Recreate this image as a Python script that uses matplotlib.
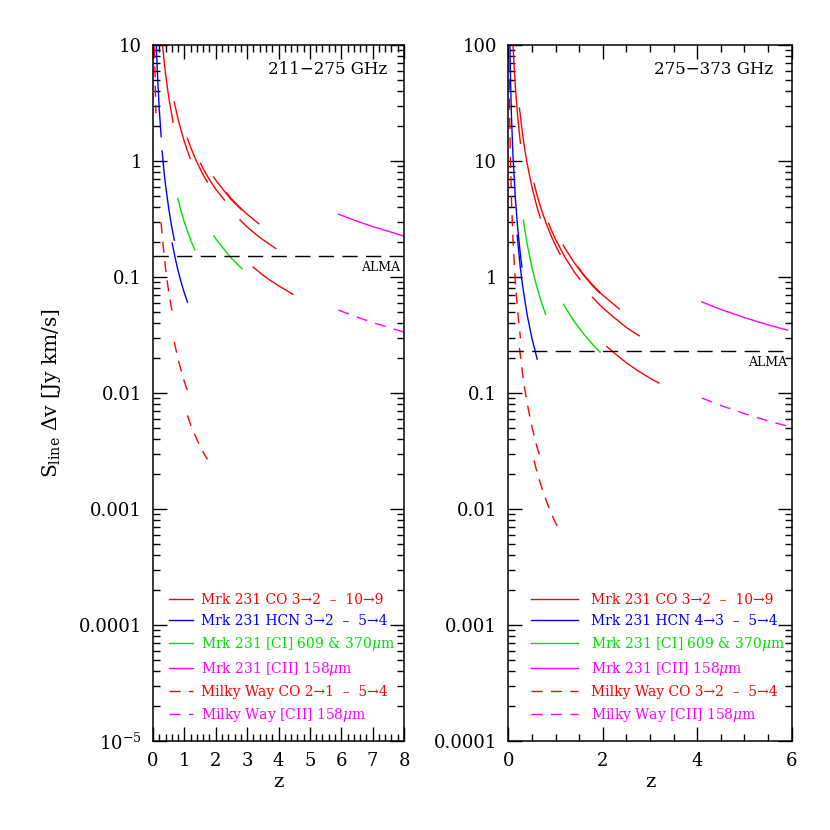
import numpy as np
import matplotlib
matplotlib.use("Agg")
import matplotlib.pyplot as plt
from matplotlib.ticker import FixedLocator, FixedFormatter, LogLocator, MultipleLocator, NullFormatter

plt.rcParams['font.family'] = ['DejaVu Serif']
plt.rcParams['mathtext.fontset'] = 'dejavuserif'

# ---- left panel, 211-275 GHz: one sub-list per transition ----
L_CO_Z = [[0.257, 0.30, 0.35, 0.40, 0.50, 0.639],
          [0.677, 0.80, 0.90, 1.00, 1.10, 1.185],
          [1.096, 1.20, 1.40, 1.60, 1.731],
          [1.515, 1.60, 1.80, 2.00, 2.277],
          [1.933, 2.00, 2.25, 2.50, 2.823],
          [2.352, 2.50, 2.75, 3.00, 3.369],
          [2.771, 3.00, 3.25, 3.50, 3.914],
          [3.189, 3.50, 3.75, 4.00, 4.460]]
L_CO_S = [[14.2, 10.3, 7.46, 5.65, 3.56, 2.16],
          [3.23, 2.29, 1.81, 1.47, 1.22, 1.05],
          [1.57, 1.31, 0.975, 0.759, 0.658],
          [0.955, 0.857, 0.690, 0.571, 0.460],
          [0.728, 0.684, 0.560, 0.463, 0.380],
          [0.530, 0.472, 0.403, 0.348, 0.288],
          [0.311, 0.270, 0.237, 0.210, 0.176],
          [0.122, 0.104, 0.0931, 0.0841, 0.0710]]
L_HCN_Z = [[0.09, 0.10, 0.12, 0.15, 0.20, 0.260],
           [0.289, 0.35, 0.40, 0.50, 0.60, 0.680],
           [0.611, 0.70, 0.80, 0.90, 1.00, 1.100]]
L_HCN_S = [[14.3, 11.5, 7.94, 5.02, 2.78, 1.62],
           [1.22, 0.818, 0.619, 0.391, 0.268, 0.208],
           [0.196, 0.149, 0.113, 0.0895, 0.0726, 0.0607]]
L_CI_Z = [[0.790, 0.90, 1.00, 1.20, 1.333],
          [1.943, 2.00, 2.25, 2.50, 2.836]]
L_CI_S = [[0.476, 0.366, 0.297, 0.208, 0.171],
          [0.225, 0.214, 0.175, 0.145, 0.118]]
L_CII_Z = [[5.911, 6.5, 7.0, 7.5, 8.0]]
L_CII_S = [[0.348, 0.303, 0.272, 0.248, 0.225]]
L_MWCO_Z = [[0.04, 0.05, 0.06, 0.07, 0.08, 0.093],
            [0.257, 0.30, 0.40, 0.50, 0.639],
            [0.677, 0.80, 0.90, 1.00, 1.185],
            [1.096, 1.20, 1.40, 1.60, 1.731]]
L_MWCO_S = [[14.2, 9.06, 6.25, 4.57, 3.49, 2.59],
            [0.296, 0.215, 0.118, 0.0745, 0.0452],
            [0.0276, 0.0195, 0.0155, 0.0125, 0.00902],
            [0.00641, 0.00532, 0.00397, 0.00309, 0.00268]]
L_MWCII_Z = [[5.911, 6.5, 7.0, 7.5, 8.0]]
L_MWCII_S = [[0.0518, 0.0451, 0.0405, 0.0368, 0.0335]]
L_ALMA = 0.152

# ---- right panel, 275-373 GHz ----
R_CO_Z = [[0.09, 0.10, 0.12, 0.15, 0.20, 0.257],
          [0.236, 0.30, 0.35, 0.40, 0.50, 0.60, 0.677],
          [0.545, 0.60, 0.70, 0.80, 0.90, 1.00, 1.096],
          [0.854, 0.90, 1.00, 1.20, 1.40, 1.515],
          [1.163, 1.20, 1.40, 1.60, 1.80, 1.933],
          [1.471, 1.60, 1.80, 2.00, 2.20, 2.352],
          [1.780, 2.00, 2.25, 2.50, 2.771],
          [2.088, 2.25, 2.50, 2.75, 3.00, 3.189]]
R_CO_S = [[123, 98.9, 68.1, 43.1, 23.8, 14.2],
          [28.6, 17.3, 12.5, 9.48, 5.98, 4.10, 3.23],
          [6.43, 5.22, 3.82, 2.91, 2.30, 1.87, 1.57],
          [2.90, 2.60, 2.11, 1.48, 1.10, 0.955],
          [1.89, 1.77, 1.32, 1.03, 0.826, 0.728],
          [1.23, 1.04, 0.841, 0.697, 0.596, 0.530],
          [0.668, 0.542, 0.444, 0.367, 0.311],
          [0.251, 0.220, 0.182, 0.155, 0.134, 0.122]]
R_HCN_Z = [[0.03, 0.04, 0.05, 0.06, 0.07, 0.10, 0.15, 0.20, 0.25, 0.289],
           [0.188, 0.25, 0.30, 0.40, 0.50, 0.611]]
R_HCN_S = [[125, 69.7, 44.5, 30.7, 22.4, 10.8, 4.72, 2.61, 1.64, 1.22],
           [2.29, 1.25, 0.855, 0.470, 0.296, 0.196]]
R_CI_Z = [[0.320, 0.35, 0.40, 0.50, 0.60, 0.70, 0.790],
          [1.170, 1.20, 1.40, 1.60, 1.80, 1.943]]
R_CI_S = [[3.09, 2.54, 1.92, 1.21, 0.832, 0.608, 0.476],
          [0.582, 0.552, 0.412, 0.321, 0.258, 0.225]]
R_CII_Z = [[4.095, 4.5, 5.0, 5.5, 5.911]]
R_CII_S = [[0.610, 0.525, 0.447, 0.387, 0.348]]
R_MWCO_Z = [[0.014, 0.017, 0.02, 0.03, 0.04, 0.05, 0.07, 0.10, 0.15, 0.20, 0.257],
            [0.236, 0.30, 0.35, 0.40, 0.50, 0.60, 0.677],
            [0.545, 0.60, 0.70, 0.80, 0.90, 1.00, 1.096]]
R_MWCO_S = [[110, 74.4, 53.7, 23.8, 13.3, 8.47, 4.28, 2.07, 0.90, 0.498, 0.296],
            [0.245, 0.148, 0.107, 0.0811, 0.0512, 0.0351, 0.0276],
            [0.0262, 0.0213, 0.0156, 0.0119, 0.00938, 0.0076, 0.00641]]
R_MWCII_Z = [[4.095, 4.5, 5.0, 5.5, 5.911]]
R_MWCII_S = [[0.0906, 0.0780, 0.0664, 0.0575, 0.0518]]
R_ALMA = 0.23

L_LABELS = ["Mrk 231 CO 3\u21922  \u2013  10\u21929",
            "Mrk 231 HCN 3\u21922  \u2013  5\u21924",
            "Mrk 231 [CI] 609 & 370$\\mu$m",
            "Mrk 231 [CII] 158$\\mu$m",
            "Milky Way CO 2\u21921  \u2013  5\u21924",
            "Milky Way [CII] 158$\\mu$m"]
R_LABELS = ["Mrk 231 CO 3\u21922  \u2013  10\u21929",
            "Mrk 231 HCN 4\u21923  \u2013  5\u21924",
            "Mrk 231 [CI] 609 & 370$\\mu$m",
            "Mrk 231 [CII] 158$\\mu$m",
            "Milky Way CO 3\u21922  \u2013  5\u21924",
            "Milky Way [CII] 158$\\mu$m"]

L_YTICKS = [1e-5, 1e-4, 1e-3, 1e-2, 1e-1, 1, 10]
L_YLABELS = ["10$^{-5}$", "0.0001", "0.001", "0.01", "0.1", "1", "10"]
R_YTICKS = [1e-4, 1e-3, 1e-2, 1e-1, 1, 10, 100]
R_YLABELS = ["0.0001", "0.001", "0.01", "0.1", "1", "10", "100"]

RED, BLUE, GREEN, MAG = "#ff0000", "#0000ff", "#00e000", "#ff00ff"
DASH = (8, 6)
LEG_FONT = {"family": "DejaVu Serif", "size": 10}


def draw_set(ax, zs, ss, color, label, dashed=False):
    for i, (z, s) in enumerate(zip(zs, ss)):
        kw = dict(color=color, lw=1.0)
        if dashed:
            kw["dashes"] = DASH
        ax.plot(z, s, label=label if i == 0 else None, **kw)


fig = plt.figure(figsize=(8.3, 8.3), dpi=100)
axL = fig.add_axes([153 / 830, 89 / 830, 251 / 830, 696 / 830])
axR = fig.add_axes([508.3 / 830, 89 / 830, 283.4 / 830, 696 / 830])

panels = [
    (axL, L_CO_Z, L_CO_S, L_HCN_Z, L_HCN_S, L_CI_Z, L_CI_S, L_CII_Z, L_CII_S,
     L_MWCO_Z, L_MWCO_S, L_MWCII_Z, L_MWCII_S, L_ALMA, L_LABELS),
    (axR, R_CO_Z, R_CO_S, R_HCN_Z, R_HCN_S, R_CI_Z, R_CI_S, R_CII_Z, R_CII_S,
     R_MWCO_Z, R_MWCO_S, R_MWCII_Z, R_MWCII_S, R_ALMA, R_LABELS),
]

for (ax, coz, cos_, hz, hs, ciz, cis, ciiz, ciis, mz, ms, mcz, mcs, alma, labels) in panels:
    ax.set_yscale("log")
    draw_set(ax, coz, cos_, RED, labels[0])
    draw_set(ax, hz, hs, BLUE, labels[1])
    draw_set(ax, ciz, cis, GREEN, labels[2])
    draw_set(ax, ciiz, ciis, MAG, labels[3])
    draw_set(ax, mz, ms, RED, labels[4], dashed=True)
    draw_set(ax, mcz, mcs, MAG, labels[5], dashed=True)
    ax.axhline(alma, color="black", lw=1.0, dashes=(11, 6))
    ax.text(0.985, alma * 0.9, "ALMA", transform=ax.get_yaxis_transform(),
            ha="right", va="top", fontsize=9)
    ax.set_xlabel("z", fontsize=14, labelpad=2)
    for sp in ax.spines.values():
        sp.set_linewidth(1.1)
    ax.tick_params(which="both", direction="in", top=True, right=True, width=1.0)
    ax.tick_params(which="major", length=10, labelsize=13, pad=8)
    ax.tick_params(which="minor", length=5)
    ax.yaxis.set_minor_locator(LogLocator(base=10, subs=np.arange(2, 10)))
    ax.yaxis.set_minor_formatter(NullFormatter())

# left panel axes
axL.set_xlim(0, 8)
axL.set_ylim(1e-5, 10)
axL.xaxis.set_major_locator(MultipleLocator(1))
axL.xaxis.set_minor_locator(MultipleLocator(0.2))
axL.yaxis.set_major_locator(FixedLocator(L_YTICKS))
axL.yaxis.set_major_formatter(FixedFormatter(L_YLABELS))
axL.text(0.935, 0.965, "211\u2212275 GHz", transform=axL.transAxes,
         ha="right", va="center", fontsize=12)
axL.set_ylabel("S$_{\\rm line}$ $\\Delta$v [Jy km/s]", fontsize=14.5, labelpad=11)
axL.legend(loc="lower left", bbox_to_anchor=(0.065, 0.025), frameon=False,
           prop=LEG_FONT, handlelength=1.7, handletextpad=0.6, labelspacing=0.5,
           borderpad=0, borderaxespad=0, labelcolor="linecolor")

# right panel axes
axR.set_xlim(0, 6)
axR.set_ylim(1e-4, 100)
axR.xaxis.set_major_locator(MultipleLocator(2))
axR.xaxis.set_minor_locator(MultipleLocator(0.5))
axR.yaxis.set_major_locator(FixedLocator(R_YTICKS))
axR.yaxis.set_major_formatter(FixedFormatter(R_YLABELS))
axR.text(0.935, 0.965, "275\u2212373 GHz", transform=axR.transAxes,
         ha="right", va="center", fontsize=12)
axR.legend(loc="lower left", bbox_to_anchor=(0.08, 0.025), frameon=False,
           prop=LEG_FONT, handlelength=3.4, handletextpad=0.95, labelspacing=0.5,
           borderpad=0, borderaxespad=0, labelcolor="linecolor")

fig.savefig("out.png", dpi=100)
